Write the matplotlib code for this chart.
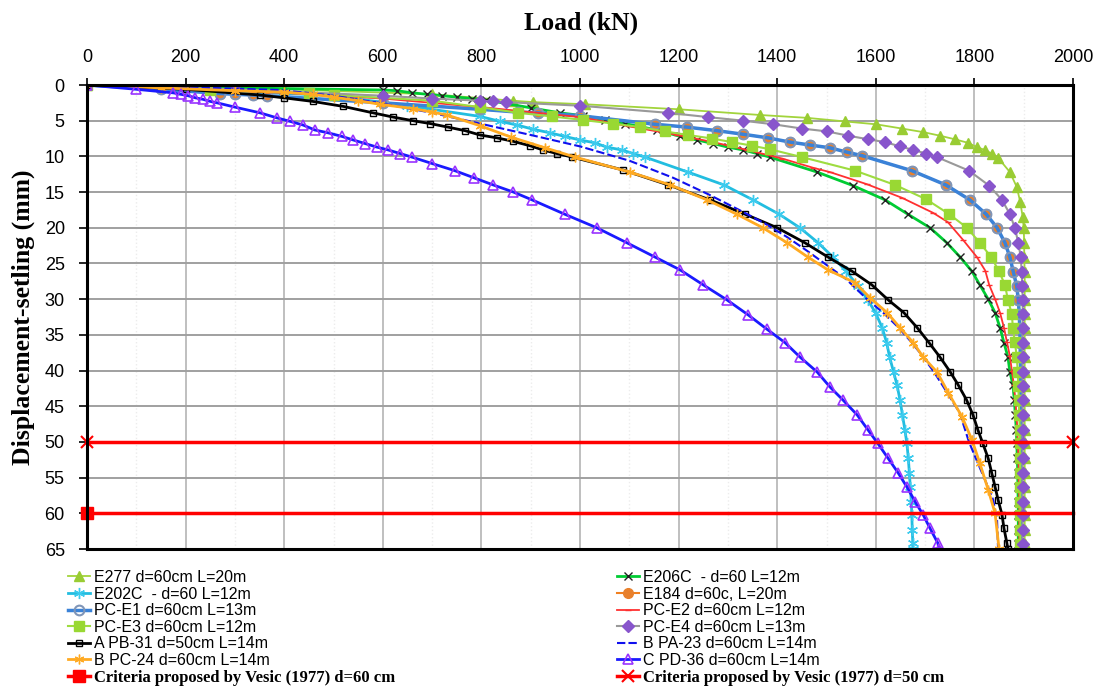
import numpy as np
import matplotlib
matplotlib.use('Agg')
import matplotlib.pyplot as plt
from matplotlib import ticker

########### data (load in kN, displacement in mm) #################
e277_load = [0, 400, 700, 864, 905, 1010, 1200, 1365, 1460, 1537,
             1600, 1653, 1696, 1730, 1760, 1787, 1805, 1821, 1835, 1848,
             1872, 1886, 1893, 1898,
             1900, 1901, 1901, 1902, 1902, 1902, 1902, 1902, 1902, 1902,
             1902, 1902, 1902, 1902, 1902, 1902, 1902, 1902, 1902, 1902,
             1902, 1902, 1902]
e277_disp = [0, 0.6, 1.3, 2.2, 2.4, 2.7, 3.4, 4.2, 4.6, 5.1,
             5.5, 6.1, 6.6, 7.1, 7.6, 8.1, 8.7, 9.1, 9.6, 10.2,
             12.2, 14.3, 16.4, 18.5,
             20.0, 22.1, 24.1, 26.2, 28.2, 30.1, 32.1, 34.1, 36.1, 38.1,
             40.2, 42.1, 44.1, 46.2, 48.3, 50.2, 52.3, 54.3, 56.3, 58.4,
             60.3, 62.3, 64.3]

e206c_load = [0, 300, 600, 629, 660, 690, 720, 750, 780, 810,
              900, 959, 1006, 1051, 1091, 1156, 1203, 1237, 1270, 1300,
              1331, 1359, 1385, 1481, 1554, 1619, 1665, 1710, 1744, 1771,
              1795, 1811, 1828, 1842, 1852, 1860, 1868, 1872, 1878, 1881,
              1883, 1885, 1886, 1887, 1888, 1888, 1889, 1889, 1889, 1889]
e206c_disp = [0, 0.4, 0.7, 0.8, 1.1, 1.3, 1.5, 1.7, 1.9, 2.1,
              3.2, 3.9, 4.3, 4.9, 5.4, 6.3, 7.2, 7.7, 8.2, 8.7,
              9.1, 9.6, 10.1, 12.2, 14.1, 16.1, 18.1, 20.0, 22.1, 24.1,
              26.1, 28.0, 30.0, 31.9, 34.0, 36.1, 38.1, 40.2, 42.0, 44.1,
              46.2, 48.3, 50.2, 52.3, 54.3, 56.3, 58.4, 60.3, 62.3, 64.3]

e202c_load = [0, 200, 500, 650, 797, 838, 872, 905, 939, 969,
              1000, 1030, 1054, 1085, 1108, 1132, 1219, 1292, 1351, 1404,
              1446, 1483, 1513, 1540, 1563, 1584, 1600, 1613, 1622, 1628,
              1636, 1643, 1649, 1654, 1659, 1663, 1666, 1668, 1670, 1672,
              1673, 1674, 1675, 1675]
e202c_disp = [0, 0.5, 1.5, 2.9, 4.4, 5.1, 5.6, 6.2, 6.7, 7.2,
              7.7, 8.1, 8.7, 9.1, 9.6, 10.1, 12.2, 14.0, 16.1, 18.1,
              20.0, 22.1, 24.1, 26.1, 28.1, 30.1, 32.0, 34.0, 36.1, 38.1,
              40.2, 42.0, 44.1, 46.2, 48.3, 50.2, 52.3, 54.3, 56.3, 58.4,
              60.2, 62.3, 64.2, 65.0]

e184_load = [0, 150, 270, 300, 337, 365, 600, 797, 875, 915,
             1000, 1152, 1217, 1278, 1331, 1381, 1426, 1466, 1507, 1541,
             1572, 1673, 1742, 1791, 1824, 1846, 1862, 1872, 1879, 1886,
             1889, 1891, 1892, 1893, 1893, 1894, 1894, 1894, 1895, 1895,
             1895, 1895, 1895, 1895, 1895, 1895, 1895, 1895]
e184_disp = [0, 0.6, 1.2, 1.3, 1.4, 1.5, 2.5, 3.4, 3.8, 3.9,
             4.3, 5.5, 5.9, 6.4, 6.9, 7.4, 8.0, 8.4, 8.8, 9.4,
             9.9, 12.0, 14.0, 16.1, 18.1, 20.0, 22.1, 24.1, 26.2, 28.2,
             30.1, 32.1, 34.1, 36.1, 38.1, 40.2, 42.1, 44.1, 46.2, 48.3,
             50.2, 52.3, 54.3, 56.3, 58.4, 60.3, 62.3, 64.3]

pce1_load = [0, 150, 270, 300, 337, 365, 600, 797, 875, 915,
             1000, 1152, 1217, 1278, 1331, 1381, 1426, 1466, 1507, 1541,
             1572, 1673, 1742, 1791, 1824, 1846, 1862, 1872, 1879, 1886,
             1889, 1891, 1892, 1893, 1893, 1894, 1894, 1894, 1895, 1895,
             1895, 1895, 1895, 1895, 1895, 1895, 1895, 1895]
pce1_disp = [0, 0.6, 1.2, 1.3, 1.4, 1.5, 2.5, 3.4, 3.8, 3.9,
             4.3, 5.5, 5.9, 6.4, 6.9, 7.4, 8.0, 8.4, 8.8, 9.4,
             9.9, 12.0, 14.0, 16.1, 18.1, 20.0, 22.1, 24.1, 26.2, 28.2,
             30.1, 32.1, 34.1, 36.1, 38.1, 40.2, 42.1, 44.1, 46.2, 48.3,
             50.2, 52.3, 54.3, 56.3, 58.4, 60.3, 62.3, 64.3]

pce2_load = [0, 200, 400, 600, 800, 1000, 1100, 1197, 1270, 1339,
             1410, 1473, 1507, 1582, 1653, 1716, 1746, 1777, 1805, 1822,
             1830, 1842, 1852, 1860, 1866, 1872, 1876, 1880, 1883, 1885,
             1887, 1888, 1889, 1890, 1890, 1891, 1891, 1891, 1891]
pce2_disp = [0, 0.5, 1.1, 1.9, 3.1, 4.5, 5.8, 7.0, 8.0, 9.1,
             10.3, 11.6, 12.2, 13.9, 15.8, 17.9, 19.2, 21.7, 24.1, 26.0,
             28.0, 30.0, 31.9, 34.0, 36.0, 38.0, 40.0, 42.0, 44.0, 46.0,
             48.0, 50.0, 52.0, 54.0, 56.0, 58.0, 60.0, 62.0, 64.0]

pce3_load = [0, 250, 450, 500, 700, 797, 875, 943, 1006, 1067,
             1122, 1172, 1219, 1268, 1308, 1349, 1385, 1450, 1558, 1639,
             1702, 1749, 1785, 1811, 1834, 1850, 1862, 1868, 1876, 1878,
             1882, 1886, 1888, 1889, 1890, 1891, 1892, 1892, 1893, 1893,
             1893, 1893, 1893, 1893, 1893]
pce3_disp = [0, 0.7, 1.1, 1.4, 2.2, 3.1, 3.9, 4.4, 4.9, 5.4,
             5.9, 6.5, 7.0, 7.5, 8.0, 8.5, 9.0, 10.1, 12.0, 14.0,
             16.0, 18.1, 20.0, 22.1, 24.1, 26.1, 28.0, 30.1, 32.1, 34.0,
             36.0, 38.1, 40.2, 42.1, 44.1, 46.2, 48.3, 50.2, 52.3, 54.3,
             56.3, 58.4, 60.3, 62.3, 64.3]

pce4_load = [0, 300, 600, 700, 797, 824, 850, 1000, 1179, 1260,
             1331, 1392, 1450, 1501, 1544, 1584, 1619, 1649, 1676, 1702,
             1724, 1789, 1830, 1856, 1872, 1882, 1889, 1894, 1896,
             1897, 1898, 1898, 1898, 1898, 1898, 1898, 1898, 1898, 1898,
             1898, 1898, 1898, 1898, 1898, 1898, 1898, 1898, 1898]
pce4_disp = [0, 0.6, 1.5, 1.9, 2.2, 2.3, 2.4, 2.9, 3.9, 4.5,
             5.0, 5.5, 6.1, 6.5, 7.1, 7.6, 8.0, 8.6, 9.1, 9.6,
             10.1, 12.0, 14.1, 16.1, 18.1, 20.0, 22.1, 24.1, 26.2,
             28.2, 30.1, 32.1, 34.1, 36.1, 38.1, 40.2, 42.1, 44.1, 46.2,
             48.3, 50.2, 52.3, 54.3, 56.3, 58.4, 60.3, 62.3, 64.3]

apb31_load = [0, 200, 350, 400, 458, 520, 580, 621, 661, 696,
              732, 767, 797, 831, 865, 898, 925, 953, 984, 1087,
              1179, 1264, 1335, 1400, 1456, 1503, 1552, 1592, 1625, 1657,
              1684, 1708, 1730, 1751, 1767, 1784, 1797, 1807, 1817, 1828,
              1835, 1842, 1848, 1856, 1860, 1866, 1868]
apb31_disp = [0, 0.6, 1.4, 1.8, 2.3, 3.0, 3.9, 4.5, 5.0, 5.4,
              5.9, 6.4, 7.0, 7.4, 7.9, 8.5, 9.1, 9.6, 10.1, 11.9,
              14.0, 16.1, 18.1, 20.0, 22.1, 24.1, 26.1, 28.0, 30.1, 31.9,
              34.0, 36.1, 38.1, 40.2, 42.0, 44.1, 46.2, 48.3, 50.2, 52.3,
              54.3, 56.3, 58.1, 60.2, 62.1, 64.2, 65.0]

bpa23_load = [0, 200, 391, 500, 600, 700, 797, 900, 1000, 1100,
              1189, 1260, 1320, 1375, 1420, 1460, 1500, 1540, 1582, 1615,
              1645, 1672, 1693, 1718, 1742, 1770, 1789, 1806, 1822, 1838,
              1846, 1848]
bpa23_disp = [0, 0.3, 0.7, 1.5, 2.6, 3.9, 5.4, 7.0, 8.6, 10.6,
              13.0, 15.3, 17.4, 19.4, 21.3, 23.2, 25.2, 27.2, 30.0, 31.9,
              33.9, 36.0, 37.8, 40.2, 42.8, 45.9, 50.0, 52.8, 55.4, 58.1,
              61.0, 65.0]

bpc24_load = [0, 150, 300, 400, 458, 500, 550, 594, 661, 700,
              730, 797, 860, 929, 990, 1101, 1183, 1258, 1318, 1371,
              1420, 1462, 1503, 1558, 1588, 1623, 1649, 1676, 1696, 1724,
              1747, 1775, 1795, 1811, 1828, 1842, 1850]
bpc24_disp = [0, 0.4, 0.8, 1.0, 1.3, 1.7, 2.2, 2.7, 3.3, 3.8,
              4.2, 5.7, 7.3, 8.8, 10.1, 12.2, 14.0, 16.1, 18.1, 20.0,
              22.1, 24.1, 25.9, 27.7, 29.8, 31.9, 34.0, 36.1, 38.1, 40.2,
              43.1, 46.5, 49.7, 53.0, 56.7, 60.0, 65.0]

cpd36_load = [0, 100, 175, 190, 205, 220, 235, 250, 264, 300,
              351, 385, 412, 438, 462, 489, 517, 540, 564, 588,
              611, 635, 659, 700, 746, 785, 824, 865, 903, 969,
              1034, 1095, 1152, 1203, 1250, 1298, 1341, 1379, 1416, 1446,
              1481, 1507, 1533, 1562, 1584, 1604, 1625, 1645, 1663, 1680,
              1696, 1710, 1726, 1728]
cpd36_disp = [0, 0.6, 1.1, 1.3, 1.5, 1.8, 2.0, 2.3, 2.5, 3.1,
              3.9, 4.6, 5.1, 5.6, 6.3, 6.7, 7.2, 7.7, 8.2, 8.7,
              9.1, 9.6, 10.1, 11.0, 12.0, 13.0, 14.0, 15.0, 16.1, 18.1,
              20.0, 22.1, 24.1, 25.9, 28.0, 30.1, 32.2, 34.2, 36.1, 38.1,
              40.2, 42.3, 44.1, 46.2, 48.3, 50.2, 52.3, 54.3, 56.3, 58.4,
              60.2, 62.1, 64.2, 65.0]

# Vesic (1977) criteria lines
crit60_load = [0, 2000]
crit60_disp = [60, 60]
crit50_load = [0, 2000]
crit50_disp = [50, 50]

x_ticks = list(range(0, 2001, 200))
y_ticks = list(range(0, 66, 5))

########### figure #################
fig = plt.figure(figsize=(10.94, 6.87), dpi=100)
ax = fig.add_axes([87/1094, 1-549/687, (1073-87)/1094, (549-85)/687])

asterisk = (6, 2, 0)

h = {}
h['e277'], = ax.plot(e277_load, e277_disp, color='#a2d43c', lw=1.3, marker='^', ms=7,
                     mfc='#99cc33', mec='#99cc33', label='E277 d=60cm L=20m')
h['e206c'], = ax.plot(e206c_load, e206c_disp, color='#00cc33', lw=2, marker='x', ms=6,
                      mec='#222222', mew=1, label='E206C  - d=60 L=12m')
h['e202c'], = ax.plot(e202c_load, e202c_disp, color='#22bde0', lw=2, marker=asterisk, ms=8,
                      mec='#3ccbee', mew=1, label='E202C  - d=60 L=12m')
h['e184'], = ax.plot(e184_load, e184_disp, color='#f08020', lw=1.5, marker='o', ms=7,
                     mfc='#e8802c', mec='#e8802c', label='E184 d=60c, L=20m')
h['pce1'], = ax.plot(pce1_load, pce1_disp, color='#3a82d8', lw=2.5, marker='o', ms=7,
                     mfc='none', mec='#7f95b8', mew=1.5, label='PC-E1 d=60cm L=13m')
h['pce2'], = ax.plot(pce2_load, pce2_disp, color='#ff3030', lw=1.3, marker='_', ms=4,
                     mec='#ff3030', label='PC-E2 d=60cm L=12m')
h['pce3'], = ax.plot(pce3_load, pce3_disp, color='#9edc40', lw=1.5, marker='s', ms=7,
                     mfc='#99d833', mec='#99d833', label='PC-E3 d=60cm L=12m')
h['pce4'], = ax.plot(pce4_load, pce4_disp, color='#999999', lw=1.5, marker='D', ms=6,
                     mfc='#8855cc', mec='#8855cc', label='PC-E4 d=60cm L=13m')
h['apb31'], = ax.plot(apb31_load, apb31_disp, color='black', lw=2, marker='s', ms=4.5,
                      mfc='none', mec='black', mew=1, label='A PB-31 d=50cm L=14m')
h['bpa23'], = ax.plot(bpa23_load, bpa23_disp, color='#1010ee', lw=1.5, ls=(0, (4, 1.5)),
                      label='B PA-23 d=60cm L=14m')
h['bpc24'], = ax.plot(bpc24_load, bpc24_disp, color='#ffaa22', lw=2, marker=asterisk, ms=7,
                      mec='#ffaa22', mew=1, label='B PC-24 d=60cm L=14m')
h['cpd36'], = ax.plot(cpd36_load, cpd36_disp, color='#1a1aff', lw=2, marker='^', ms=7,
                      mfc='none', mec='#9933ff', mew=1.2, label='C PD-36 d=60cm L=14m')
h['c60'], = ax.plot(crit60_load, crit60_disp, color='#ff0000', lw=2.5, marker='s', ms=8,
                    markevery=[0], clip_on=False, label='Criteria proposed by Vesic (1977) d=60 cm')
h['c50'], = ax.plot(crit50_load, crit50_disp, color='#ff0000', lw=2.5, marker='x', ms=8,
                    mew=1.5, markevery=[0, 1], clip_on=False,
                    label='Criteria proposed by Vesic (1977) d=50 cm')

########### axes #################
ax.set_xlim(0, 2000)
ax.set_ylim(65, 0)
ax.xaxis.tick_top()
ax.set_xticks(x_ticks)
ax.set_yticks(y_ticks)
ax.xaxis.set_minor_locator(ticker.MultipleLocator(100))
ax.tick_params(axis='x', which='major', direction='out', length=5, width=1.2, pad=9,
               labelsize=13, top=True, bottom=False)
ax.tick_params(axis='x', which='minor', length=0)
ax.tick_params(axis='y', direction='out', length=6, width=1.2, pad=10, labelsize=13)
for lab in ax.get_xticklabels() + ax.get_yticklabels():
    lab.set_fontfamily('Liberation Sans')

ax.set_axisbelow(True)
ax.grid(True, which='major', axis='y', color='#a0a0a0', lw=1.4)
ax.grid(True, which='major', axis='x', color='#b4b4b4', lw=1.2)
ax.grid(True, which='minor', axis='x', color='#ececec', lw=1, ls=':')
for sp in ax.spines.values():
    sp.set_linewidth(2.2)
    sp.set_color('black')

fig.text(581/1094, 1-23/687, 'Load (kN)', ha='center', va='center',
         fontsize=18.5, fontweight='bold', family='Liberation Serif')
fig.text(23/1094, 1-317/687, 'Displacement-setling (mm)', ha='center', va='center',
         rotation=90, fontsize=18.5, fontweight='bold', family='Liberation Serif')

########### legends #################
left_keys = ['e277', 'e202c', 'pce1', 'pce3', 'apb31', 'bpc24', 'c60']
right_keys = ['e206c', 'e184', 'pce2', 'pce4', 'bpa23', 'cpd36', 'c50']

def make_legend(keys, x0):
    leg = fig.legend([h[k] for k in keys], [h[k].get_label() for k in keys],
                     loc='upper left', bbox_to_anchor=(x0/1094, 1-570/687),
                     frameon=False, borderpad=0, borderaxespad=0,
                     handlelength=1.4, handletextpad=0.2, labelspacing=0.1,
                     prop={'family': 'Liberation Sans', 'size': 11.5})
    txt = leg.get_texts()[-1]
    txt.set_fontfamily('Liberation Serif')
    txt.set_fontweight('bold')
    txt.set_fontsize(12)
    return leg

leg1 = make_legend(left_keys, 68)
leg2 = make_legend(right_keys, 617)

fig.savefig('out.png', dpi=100)
